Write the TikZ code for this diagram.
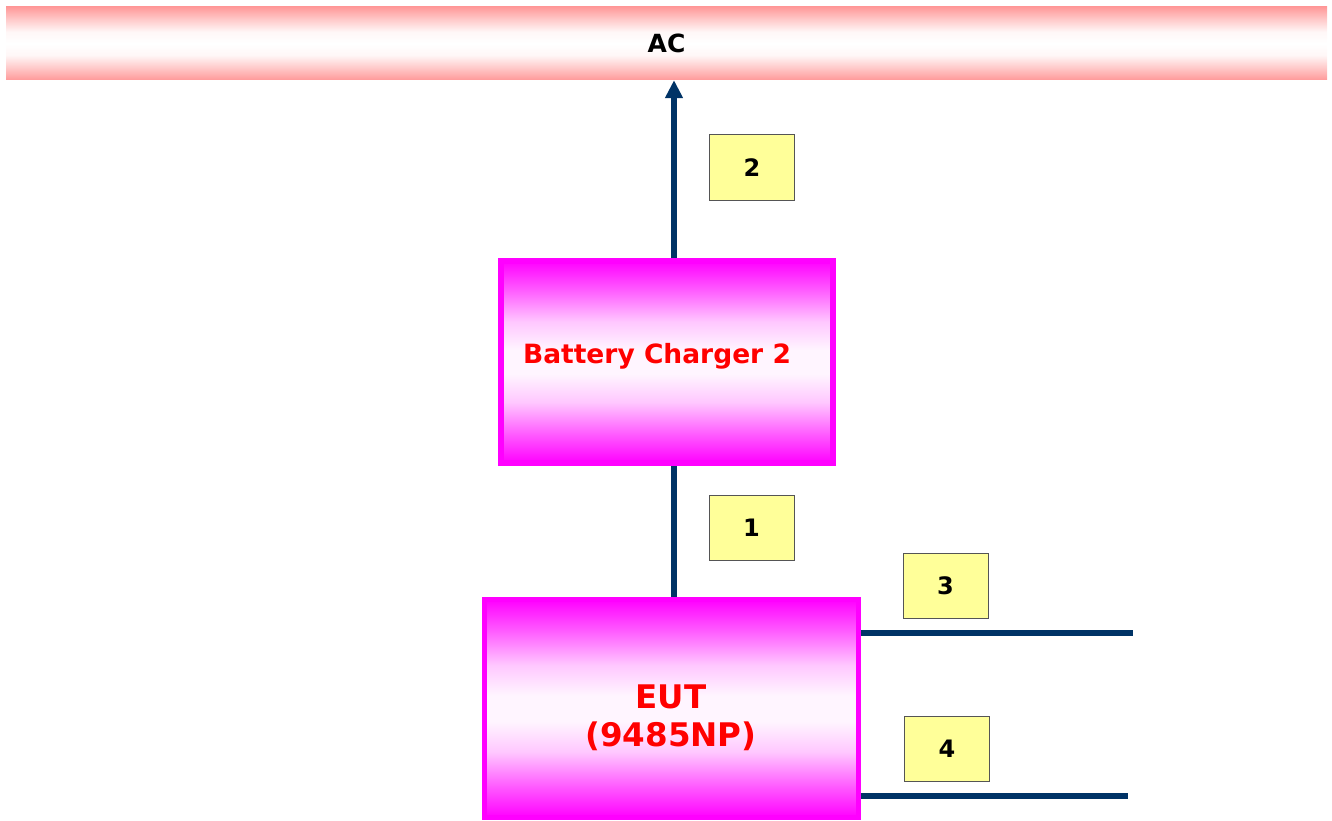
\documentclass[tikz,border=0pt]{standalone}
\usepackage{fontspec}
\newfontfamily\dv{DejaVu Sans}
\usetikzlibrary{arrows.meta}
\definecolor{wirecol}{HTML}{003366}
\definecolor{acpink}{HTML}{FF9999}
\definecolor{lblfill}{HTML}{FFFF99}
\definecolor{lbldraw}{HTML}{555555}
\definecolor{boxmag}{HTML}{FF00FF}
\definecolor{txtred}{HTML}{FF0000}
\pgfdeclareverticalshading{magshade}{100bp}{color(0bp)=(boxmag); color(25bp)=(boxmag); color(32bp)=(boxmag!65!white); color(40bp)=(boxmag!22!white); color(47bp)=(boxmag!4!white); color(53bp)=(boxmag!4!white); color(60bp)=(boxmag!22!white); color(68bp)=(boxmag!65!white); color(75bp)=(boxmag); color(100bp)=(boxmag)}
\pgfdeclareverticalshading{acshade}{100bp}{color(0bp)=(acpink); color(25bp)=(acpink); color(33bp)=(acpink!55!white); color(42bp)=(acpink!8!white); color(50bp)=(white); color(58bp)=(acpink!8!white); color(67bp)=(acpink!55!white); color(75bp)=(acpink); color(100bp)=(acpink)}
\tikzset{
  acbar/.style={inner sep=0pt, shading=acshade, minimum width=1321pt, minimum height=73pt,
    font=\dv\bfseries\fontsize{25}{29}\selectfont},
  magbox/.style={draw=boxmag, inner sep=0pt, shading=magshade},
  boxtext/.style={text=txtred, align=center, inner sep=0pt},
  lbl/.style={draw=lbldraw, fill=lblfill, line width=1pt, minimum width=85pt, minimum height=65pt,
    inner sep=0pt, font=\dv\bfseries\fontsize{24}{28}\selectfont},
  wire/.style={draw=wirecol, line width=5.5pt}
}
\begin{document}
\begin{tikzpicture}[x=1pt,y=-1pt]
\useasboundingbox (0,0) rectangle (1332,821);
\node[acbar] (ac) at (666.5,43.5) {AC};
\node[magbox, line width=6pt, minimum width=332pt, minimum height=202pt] (bc) at (667,362) {};
\node[boxtext, font=\dv\bfseries\fontsize{26.5}{30}\selectfont] (bct) at (657,356) {Battery Charger 2};
\node[magbox, line width=5pt, minimum width=374pt, minimum height=218pt] (eut) at (671.5,708.5) {};
\node[boxtext, font=\dv\bfseries\fontsize{32.5}{38}\selectfont] (eutt) at (671,718) {EUT\\(9485NP)};
\node[lbl] (l2) at (752,167.5) {2};
\node[lbl] (l1) at (751.5,527.5) {1};
\node[lbl] (l3) at (945.5,586) {3};
\node[lbl] (l4) at (947,748.5) {4};
\coordinate (e3) at (1133,633);
\coordinate (e4) at (1128,796);
\draw[wire,-{Triangle[width=17pt,length=18pt]}] ([xshift=7]bc.north) -- ([xshift=7]bc.north |- ac.south);
\draw[wire] ([xshift=7]bc.south) -- ([xshift=7]bc.south |- eut.north);
\draw[wire] (e3 -| eut.east) -- (e3);
\draw[wire] (e4 -| eut.east) -- (e4);
\end{tikzpicture}
\end{document}
